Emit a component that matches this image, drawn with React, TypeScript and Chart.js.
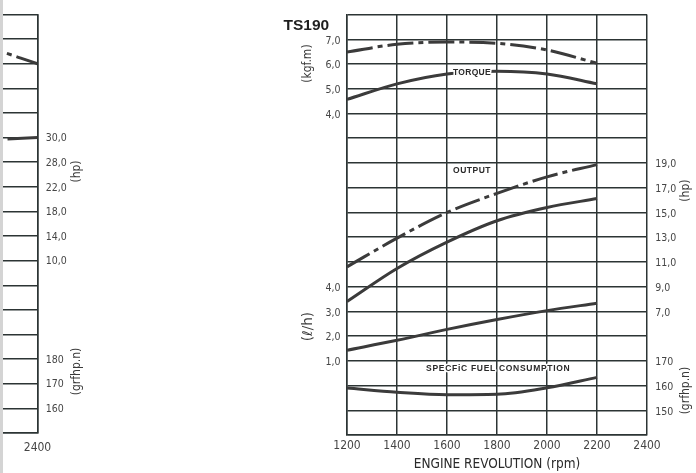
import React, { useEffect, useRef } from 'react';
import { Chart, registerables } from 'chart.js';

Chart.register(...registerables);

// ---------- main chart data (TS190) ----------
const rpm = [1200, 1400, 1600, 1800, 2000, 2200];
const torqueMax = [6.49, 6.8, 6.89, 6.84, 6.57, 6.03];
const torqueRated = [4.57, 5.2, 5.6, 5.71, 5.6, 5.2];
const outputMax = [10.6, 12.92, 15.0, 16.54, 17.88, 18.87];
const outputRated = [7.8, 10.47, 12.6, 14.33, 15.4, 16.12];
const fuelRate = [1.43, 1.83, 2.27, 2.67, 3.03, 3.33];
const specificFuel = [159, 157.3, 156.3, 156.5, 159.1, 163.3];

const rpmRange = [1200, 2400];
const rpmStep = 200;
const torqueRange = [-9, 8];
const fuelRateRange = [-2, 15];
const outputRange = [-3, 31];
const specificFuelRange = [140, 310];

const torqueTicks = [4, 5, 6, 7];
const fuelRateTicks = [1, 2, 3, 4];
const outputTicks = [7, 9, 11, 13, 15, 17, 19];
const specificFuelTicks = [150, 160, 170];

// ---------- neighbouring (cropped) chart on the left ----------
const leftRowRange = [0, 17];
const leftHpRows = [5, 6, 7, 8, 9, 10];
const leftHpLabels = ['30,0', '28,0', '22,0', '18,0', '14,0', '10,0'];
const leftSfcRows = [14, 15, 16];
const leftSfcLabels = ['180', '170', '160'];
const leftTorqueRpm = [2000, 2200, 2400];
const leftTorqueRows = [1.0, 1.35, 2.0];
const leftOutputRpm = [2280, 2400];
const leftOutputRows = [5.06, 5.0];

const GRID = '#2c3434';
const LINE = '#3b3b3b';
const TICK = '#464646';
const COND = '"DejaVu Sans Condensed", "DejaVu Sans", sans-serif';
const DASHDOT = [26, 5, 5, 5];

const comma = (v: number) => v.toFixed(1).replace('.', ',');
const pts = (xs: number[], ys: number[]) => xs.map((x, i) => ({ x, y: ys[i] }));

function rotText(ctx: CanvasRenderingContext2D, text: string, x: number, y: number, font: string) {
  ctx.save();
  ctx.translate(x, y);
  ctx.rotate(-Math.PI / 2);
  ctx.font = font;
  ctx.fillStyle = '#3a3a3a';
  ctx.textAlign = 'center';
  ctx.textBaseline = 'middle';
  ctx.fillText(text, 0, 0);
  ctx.restore();
}

function haloText(ctx: CanvasRenderingContext2D, text: string, x: number, y: number, spacing: string) {
  ctx.save();
  ctx.font = 'bold 8.5px "Liberation Sans", Arial, sans-serif';
  (ctx as any).letterSpacing = spacing;
  ctx.textAlign = 'center';
  ctx.textBaseline = 'middle';
  ctx.lineJoin = 'round';
  ctx.strokeStyle = '#ffffff';
  ctx.lineWidth = 3;
  ctx.strokeText(text, x, y);
  ctx.fillStyle = '#2a2a2a';
  ctx.fillText(text, x, y);
  ctx.restore();
}

const mainTextPlugin = {
  id: 'mainText',
  afterDraw(chart: any) {
    const { ctx, chartArea: a, scales } = chart;
    ctx.save();
    ctx.font = 'bold 15.5px "Liberation Sans", Arial, sans-serif';
    ctx.fillStyle = '#1e1e1e';
    ctx.textAlign = 'left';
    ctx.textBaseline = 'alphabetic';
    ctx.fillText('TS190', a.left - 63.5, a.top + 15);
    ctx.restore();

    rotText(ctx, '(kgf.m)', a.left - 39.5, a.top + 49, `12px ${COND}`);
    rotText(ctx, '(\u2113/h)', a.left - 38.5, a.top + 312, `13.5px "DejaVu Sans", sans-serif`);
    rotText(ctx, '(hp)', a.right + 38.5, a.top + 176, `12px ${COND}`);
    rotText(ctx, '(grfhp.n)', a.right + 38.5, a.top + 376, `12px ${COND}`);

    const x = scales.x;
    haloText(ctx, 'TORQUE', x.getPixelForValue(1700), scales.yT.getPixelForValue(5.64), '0.3px');
    haloText(ctx, 'OUTPUT', x.getPixelForValue(1700), scales.yH.getPixelForValue(18.36), '0.5px');
    haloText(ctx, 'SPECFiC FUEL CONSUMPTION', x.getPixelForValue(1805), scales.yS.getPixelForValue(167), '0.7px');
  },
};

const leftTextPlugin = {
  id: 'leftText',
  afterDraw(chart: any) {
    const { ctx, chartArea: a } = chart;
    rotText(ctx, '(hp)', a.right + 39.5, a.top + 157, `12px ${COND}`);
    rotText(ctx, '(grfhp.n)', a.right + 39.5, a.top + 357, `12px ${COND}`);
  },
};

function lineDs(data: { x: number; y: number }[], yAxisID: string, dash: number[] = []) {
  return {
    data,
    yAxisID,
    borderColor: LINE,
    borderWidth: 3,
    borderDash: dash,
    borderCapStyle: 'butt',
    pointRadius: 0,
    cubicInterpolationMode: 'monotone',
    fill: false,
  };
}

const xAxis = (padding: number, height: number, withTitle: boolean) => ({
  type: 'linear',
  min: rpmRange[0],
  max: rpmRange[1],
  afterBuildTicks: (s: any) => {
    const t = [];
    for (let v = rpmRange[0]; v <= rpmRange[1]; v += rpmStep) t.push({ value: v });
    s.ticks = t;
  },
  afterFit: (s: any) => {
    s.height = height;
  },
  grid: { color: GRID, lineWidth: 1.5, drawTicks: false },
  border: { color: GRID, width: 1.5 },
  ticks: {
    autoSkip: false,
    maxRotation: 0,
    padding,
    color: TICK,
    font: { family: COND, size: 12 },
    callback: (v: number) => String(v),
  },
  title: {
    display: withTitle,
    text: 'ENGINE REVOLUTION (rpm)',
    color: '#2a2a2a',
    font: { family: COND, size: 13.5 },
    padding: { top: 0, bottom: 0 },
  },
});

export default function App() {
  const mainRef = useRef<HTMLCanvasElement>(null);
  const leftRef = useRef<HTMLCanvasElement>(null);

  useEffect(() => {
    const main = new Chart(mainRef.current as HTMLCanvasElement, {
      type: 'line',
      data: {
        datasets: [
          lineDs(pts(rpm, torqueMax), 'yT', DASHDOT),
          lineDs(pts(rpm, torqueRated), 'yT'),
          lineDs(pts(rpm, outputMax), 'yH', DASHDOT),
          lineDs(pts(rpm, outputRated), 'yH'),
          lineDs(pts(rpm, fuelRate), 'yL'),
          lineDs(pts(rpm, specificFuel), 'yS'),
        ] as any,
      },
      options: {
        animation: false,
        responsive: false,
        events: [],
        layout: { padding: { top: 10, left: 0, right: 0, bottom: 0 } },
        plugins: { legend: { display: false }, tooltip: { enabled: false } },
        scales: {
          x: xAxis(4, 38, true) as any,
          yT: {
            type: 'linear',
            position: 'left',
            min: torqueRange[0],
            max: torqueRange[1],
            afterFit: (s: any) => {
              s.width = 67;
            },
            grid: { color: GRID, lineWidth: 1.5, drawTicks: false },
            border: { color: GRID, width: 1.5 },
            ticks: {
              stepSize: 1,
              autoSkip: false,
              padding: 6.5,
              labelOffset: 1.5,
              color: TICK,
              font: { family: COND, size: 10.5 },
              callback: (v: number) => {
                if (torqueTicks.includes(v)) return comma(v);
                const f = v + (fuelRateRange[1] - torqueRange[1]);
                if (v < 0 && fuelRateTicks.includes(f)) return comma(f);
                return '';
              },
            },
          },
          yL: { type: 'linear', display: false, min: fuelRateRange[0], max: fuelRateRange[1] },
          yH: {
            type: 'linear',
            position: 'right',
            min: outputRange[0],
            max: outputRange[1],
            afterFit: (s: any) => {
              s.width = 49;
            },
            grid: { display: false, drawTicks: false },
            border: { display: false },
            ticks: {
              stepSize: 2,
              autoSkip: false,
              padding: 8.3,
              labelOffset: 1.5,
              color: TICK,
              font: { family: COND, size: 10.5 },
              callback: (v: number) => {
                if (outputTicks.includes(v)) return comma(v);
                const ratio = (specificFuelRange[1] - specificFuelRange[0]) / (outputRange[1] - outputRange[0]);
                const g = Math.round(specificFuelRange[1] - (outputRange[1] - v) * ratio);
                if (v < 7 && specificFuelTicks.includes(g)) return String(g);
                return '';
              },
            },
          },
          yS: { type: 'linear', display: false, min: specificFuelRange[0], max: specificFuelRange[1] },
        },
      },
      plugins: [mainTextPlugin],
    });

    const left = new Chart(leftRef.current as HTMLCanvasElement, {
      type: 'line',
      data: {
        datasets: [
          { ...lineDs(pts(leftTorqueRpm, leftTorqueRows), 'yR', DASHDOT), borderDashOffset: 1 },
          lineDs(pts(leftOutputRpm, leftOutputRows), 'yR'),
        ] as any,
      },
      options: {
        animation: false,
        responsive: false,
        events: [],
        layout: { padding: { top: 12, left: 37.5, right: 0, bottom: 0 } },
        plugins: { legend: { display: false }, tooltip: { enabled: false } },
        scales: {
          x: xAxis(7.5, 40, false) as any,
          yR: {
            type: 'linear',
            position: 'right',
            reverse: true,
            min: leftRowRange[0],
            max: leftRowRange[1],
            afterFit: (s: any) => {
              s.width = 82.5;
            },
            grid: { color: GRID, lineWidth: 1.5, drawTicks: false },
            border: { color: GRID, width: 1.5 },
            ticks: {
              stepSize: 1,
              autoSkip: false,
              padding: 8.2,
              labelOffset: 1,
              color: TICK,
              font: { family: COND, size: 10.5 },
              callback: (v: number) => {
                const i = leftHpRows.indexOf(v);
                if (i >= 0) return leftHpLabels[i];
                const j = leftSfcRows.indexOf(v);
                if (j >= 0) return leftSfcLabels[j];
                return '';
              },
            },
          },
        },
      },
      plugins: [leftTextPlugin],
    });

    return () => {
      main.destroy();
      left.destroy();
    };
  }, []);

  return (
    <div style={{ position: 'absolute', left: 0, top: 0, width: 696, height: 473, overflow: 'hidden', background: '#ffffff' }}>
      <canvas
        ref={leftRef}
        width={420}
        height={473}
        style={{ position: 'absolute', left: -300, top: 0, width: 420, height: 473 }}
      />
      <div style={{ position: 'absolute', left: 0, top: 0, width: 3, height: 473, background: '#d4d4d4' }} />
      <canvas
        ref={mainRef}
        width={416}
        height={473}
        style={{ position: 'absolute', left: 280, top: 0, width: 416, height: 473 }}
      />
    </div>
  );
}
